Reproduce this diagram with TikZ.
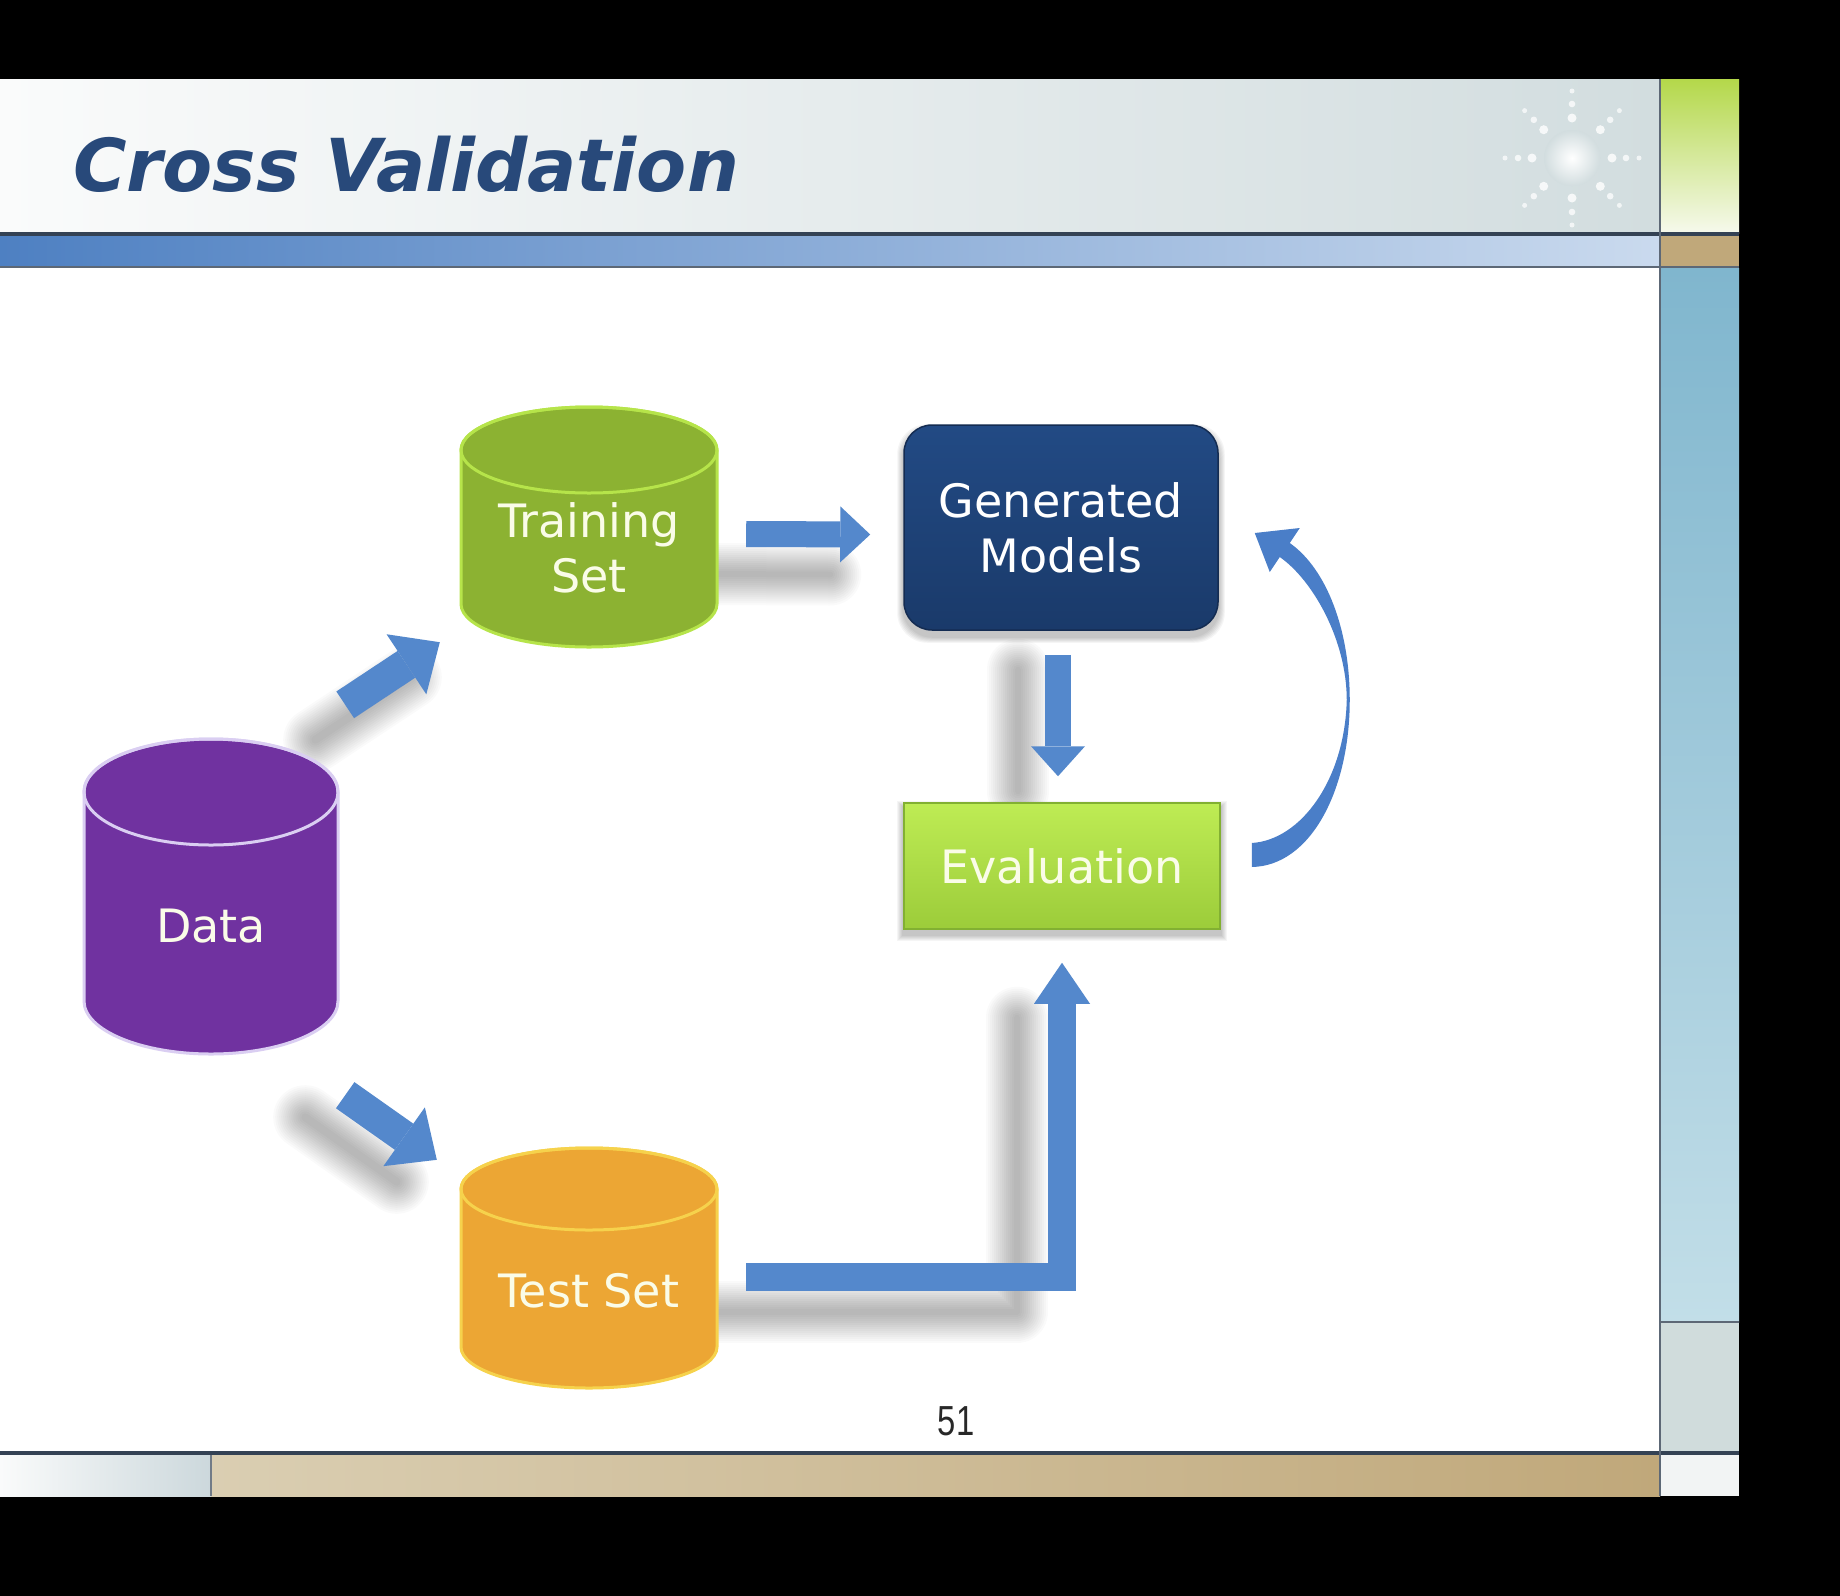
\documentclass[tikz,border=0pt]{standalone}
\usepackage{fontspec}
\usepackage{graphicx}
\setmainfont{DejaVu Sans}
\newfontfamily\pagenofont{Liberation Sans}
\usetikzlibrary{arrows.meta,calc}

\definecolor{titleblue}{RGB}{40,73,122}
\definecolor{hdrL}{RGB}{250,251,251}
\definecolor{hdrR}{RGB}{210,221,223}
\definecolor{rulecol}{RGB}{52,66,84}
\definecolor{bandL}{RGB}{78,128,194}
\definecolor{bandR}{RGB}{202,218,238}
\definecolor{limeTop}{RGB}{180,216,74}
\definecolor{limeBot}{RGB}{246,249,236}
\definecolor{tanband}{RGB}{192,168,122}
\definecolor{sideTop}{RGB}{128,182,206}
\definecolor{sideBot}{RGB}{194,222,232}
\definecolor{sideGrey}{RGB}{208,220,220}
\definecolor{sideWhite}{RGB}{242,244,244}
\definecolor{footL}{RGB}{250,251,251}
\definecolor{footR}{RGB}{204,216,220}
\definecolor{footTanL}{RGB}{218,206,178}
\definecolor{footTanR}{RGB}{192,168,122}
\definecolor{arrowblue}{RGB}{84,136,204}
\definecolor{bevel}{RGB}{150,190,236}
\definecolor{loopblue}{RGB}{74,126,200}
\definecolor{dataBody}{RGB}{112,50,160}
\definecolor{dataRim}{RGB}{218,206,242}
\definecolor{trainBody}{RGB}{140,178,50}
\definecolor{trainRim}{RGB}{182,228,74}
\definecolor{testBody}{RGB}{236,166,52}
\definecolor{testRim}{RGB}{246,210,76}
\definecolor{genTop}{RGB}{34,74,132}
\definecolor{genBot}{RGB}{26,58,106}
\definecolor{genEdge}{RGB}{20,44,82}
\definecolor{evTop}{RGB}{190,236,84}
\definecolor{evBot}{RGB}{156,204,58}
\definecolor{evEdge}{RGB}{130,176,50}
\definecolor{cream}{RGB}{250,252,232}
\definecolor{pagegrey}{RGB}{40,40,40}

\pgfdeclarelayer{slide}
\pgfdeclarelayer{shade}
\pgfsetlayers{slide,shade,main}

% database cylinder: centre x, top y, bottom y, x radius, y radius, body colour, rim colour
\newcommand\dbcylinder[7]{%
  \pgfmathsetmacro\cylT{#2+#5}\pgfmathsetmacro\cylB{#3-#5}%
  \pgfmathsetmacro\cylL{#1-#4}\pgfmathsetmacro\cylR{#1+#4}%
  \filldraw[fill=#6, draw=#7, line width=3pt]
    (\cylL,\cylT) -- (\cylL,\cylB)
    arc[start angle=180, end angle=360, x radius=#4pt, y radius=#5pt]
    -- (\cylR,\cylT)
    arc[start angle=0, end angle=180, x radius=#4pt, y radius=#5pt] -- cycle;
  \draw[#7, line width=3pt] (#1,\cylT) ellipse[x radius=#4pt, y radius=#5pt];
}

% soft drop shadow under a thick stroke
\newcommand\softstroke[2]{%
  \foreach \k in {0,...,14}{%
    \pgfmathsetmacro\shw{#1+4*\k}%
    \draw[black, opacity=0.019, line width=\shw pt, line cap=round, line join=round] #2;}}

\begin{document}
\begin{tikzpicture}[x=1pt, y=-1pt,
  lbl/.style={text=cream, font=\fontsize{46}{55}\selectfont, align=center, inner sep=0pt},
  blk/.style={draw=arrowblue, line width=#1, line join=miter},
  hook/.style={inner sep=0pt, draw=none}]
\useasboundingbox (0,0) rectangle (1840,1596);

% ---- slide frame ----
\begin{pgfonlayer}{slide}
  \fill[black] (0,0) rectangle (1840,1596);
  \fill[white] (0,268) rectangle (1660,1452);
  \shade[left color=hdrL, right color=hdrR] (0,79) rectangle (1660,233);
  \shade[left color=bandL, right color=bandR] (0,236) rectangle (1660,266);
  \shade[top color=limeTop, bottom color=limeBot] (1660,79) rectangle (1739,233);
  \fill[tanband] (1660,236) rectangle (1739,266);
  \shade[top color=sideTop, bottom color=sideBot] (1660,268) rectangle (1739,1322);
  \fill[sideGrey] (1660,1322) rectangle (1739,1452);
  \fill[sideWhite] (1660,1455) rectangle (1739,1496);
  \shade[left color=footL, right color=footR] (0,1455) rectangle (211,1496);
  \shade[left color=footTanL, right color=footTanR] (211,1455) rectangle (1660,1496);
  \fill[rulecol] (0,232) rectangle (1739,236);
  \fill[rulecol!80!white] (0,266) rectangle (1739,268);
  \fill[rulecol!80!white] (1660,1321) rectangle (1739,1323);
  \fill[rulecol] (0,1451) rectangle (1739,1455);
  \fill[rulecol!80!white] (1659,79) rectangle (1661,1496);
  \fill[rulecol!70!white] (210,1455) rectangle (212,1496);
  % sparkle
  \shade[inner color=white, outer color=hdrR] (1572,158) circle (28pt);
  \foreach \a in {0,45,...,315}{
    \fill[white, opacity=.8] ($(1572,158)+(\a:40)$) circle (4.5pt);
    \fill[white, opacity=.75] ($(1572,158)+(\a:54)$) circle (3.3pt);
    \fill[white, opacity=.7] ($(1572,158)+(\a:67)$) circle (2.5pt);
  }
\end{pgfonlayer}

% ---- title ----
\node[anchor=base west, inner sep=0pt, text=titleblue,
      font=\fontsize{73}{80}\selectfont\bfseries\itshape] (title) at (73,191) {Cross Validation};

% ---- data stores ----
\dbcylinder{211}{739}{1054}{127}{53}{dataBody}{dataRim}
\dbcylinder{589}{407}{647}{128}{43}{trainBody}{trainRim}
\dbcylinder{589}{1148}{1388}{128}{41}{testBody}{testRim}
\node[hook, minimum width=254pt, minimum height=315pt] (data) at (211,896.5) {};
\node[hook, minimum width=256pt, minimum height=240pt] (train) at (589,527) {};
\node[hook, minimum width=256pt, minimum height=240pt] (test) at (589,1268) {};
\node[lbl] (dataText) at (211,926) {Data};
\node[lbl] (trainText) at (589,548) {Training\\Set};
\node[lbl] (testText) at (589,1291) {Test Set};

% ---- process boxes ----
\node[rounded corners=28pt, minimum width=314pt, minimum height=205pt,
      top color=genTop, bottom color=genBot, draw=genEdge, line width=1.5pt,
      text=white, align=center, font=\fontsize{46}{55}\selectfont] (gen) at (1061,527.5) {Generated\\Models};
\node[minimum width=316pt, minimum height=126pt,
      top color=evTop, bottom color=evBot, draw=evEdge, line width=1.5pt,
      text=cream, font=\fontsize{46}{55}\selectfont] (eval) at (1062,866) {Evaluation};

% ---- arrow end points ----
\coordinate (dtA) at ($(data.north east)+(7,-34)$);
\coordinate (dtB) at ($(train.south west)+(-21,-5)$);
\coordinate (dsA) at ($(data.south east)+(7,41)$);
\coordinate (dsB) at ($(test.north west)+(-24,12)$);
\coordinate (tgA) at ($(train.east)+(29,7)$);
\coordinate (tgB) at ($(gen.west)+(-33,7)$);
\coordinate (geA) at ($(gen.south)+(-3,24)$);
\coordinate (geB) at ($(eval.north)+(-4,-26)$);
\coordinate (seA) at ($(test.east)+(29,9)$);
\coordinate (seC) at (seA -| eval.center);
\coordinate (seB) at ($(eval.south)+(0,33)$);

% ---- block arrows ----
\draw[blk=32pt, -{Triangle[length=40pt,width=72pt,line width=0pt]}] (dtA) -- (dtB);
\draw[blk=32pt, -{Triangle[length=40pt,width=72pt,line width=0pt]}] (dsA) -- (dsB);
\draw[blk=26pt, -{Triangle[length=30pt,width=56pt,line width=0pt]}] (tgA) -- (tgB);
\draw[blk=26pt, -{Triangle[length=30pt,width=54pt,line width=0pt]}] (geA) -- (geB);
\draw[blk=28pt, -{Triangle[length=41pt,width=56pt,line width=0pt]}] (seA) -- (seC) -- (seB);

% ---- feedback loop from evaluation back to the models ----
\begin{scope}[shift={(eval.east)}]
  \fill[loopblue] (31,-23) .. controls (80,-26) and (124,-86) .. (126,-166)
    .. controls (126,-226) and (92,-286) .. (59,-309)
    -- (49,-294) -- (34,-333) -- (79,-338) -- (69,-323)
    .. controls (106,-297) and (129,-236) .. (129,-166)
    .. controls (129,-76) and (90,0) .. (31,1) -- cycle;
\end{scope}

% ---- page number ----
\node[text=pagegrey, font=\pagenofont\fontsize{42}{44}\selectfont, inner sep=0pt] (pageno)
  at (956,1421) {\scalebox{0.78}[1]{51}};

% ---- soft shadows ----
\begin{pgfonlayer}{shade}
  \softstroke{8}{($(dtA)+(-30,35)$) -- ($(dtB)+(-30,35)$)}
  \softstroke{8}{($(dsA)+(-40,22)$) -- ($(dsB)+(-40,22)$)}
  \softstroke{6}{($(tgA)+(-40,40)$) -- ($(tgB)+(-40,40)$)}
  \softstroke{6}{($(geA)+(-40,15)$) -- ($(geB)+(-40,15)$)}
  \softstroke{6}{($(seA)+(-45,35)$) -- ($(seC)+(-45,35)$) -- ($(seB)+(-45,55)$)}
  \foreach \k in {1,...,6}{
    \fill[black, opacity=0.04, rounded corners=30pt]
      ($(gen.north west)+(-\k,6-\k)$) rectangle ($(gen.south east)+(\k,6+\k)$);
    \fill[black, opacity=0.04]
      ($(eval.north west)+(-\k,5-\k)$) rectangle ($(eval.south east)+(\k,5+\k)$);
  }
\end{pgfonlayer}
\end{tikzpicture}
\end{document}
